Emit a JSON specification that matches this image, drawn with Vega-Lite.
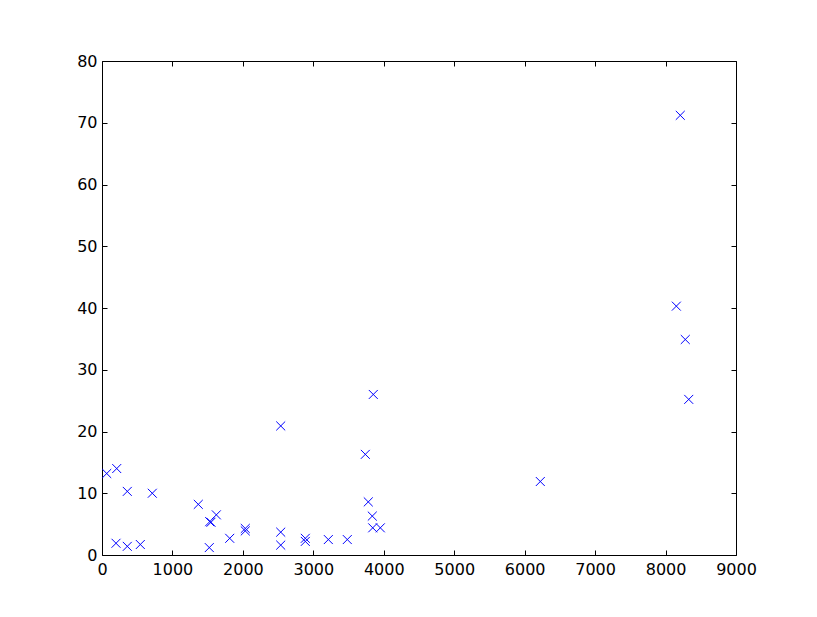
{
  "$schema": "https://vega.github.io/schema/vega-lite/v6.json",
  "width": 634,
  "height": 494,
  "autosize": {"type": "none"},
  "padding": {"left": 102, "top": 61, "right": 81, "bottom": 62},
  "background": "white",
  "config": {
    "view": {"stroke": "black", "strokeWidth": 1},
    "axis": {
      "grid": false, "domain": false, "tickColor": "black", "tickSize": -5, "tickWidth": 1,
      "labelFont": "DejaVu Sans", "labelFontSize": 16, "labelColor": "black", "title": null
    }
  },
  "data": {"values": [
    {"x": 67, "y": 13.2}, {"x": 209, "y": 14.0}, {"x": 359, "y": 10.3}, {"x": 714, "y": 10.0},
    {"x": 1367, "y": 8.2}, {"x": 1529, "y": 5.4}, {"x": 1547, "y": 5.3}, {"x": 1623, "y": 6.5},
    {"x": 2034, "y": 4.3}, {"x": 2034, "y": 3.9}, {"x": 2537, "y": 20.9}, {"x": 2537, "y": 3.7},
    {"x": 2537, "y": 1.6}, {"x": 199, "y": 1.9}, {"x": 359, "y": 1.4}, {"x": 544, "y": 1.7},
    {"x": 1523, "y": 1.2}, {"x": 1813, "y": 2.7}, {"x": 3851, "y": 26.0}, {"x": 3738, "y": 16.3},
    {"x": 3780, "y": 8.6}, {"x": 3837, "y": 6.3}, {"x": 3843, "y": 4.4}, {"x": 3951, "y": 4.4},
    {"x": 2886, "y": 2.7}, {"x": 2886, "y": 2.2}, {"x": 3213, "y": 2.5}, {"x": 3482, "y": 2.5},
    {"x": 8209, "y": 71.2}, {"x": 8153, "y": 40.3}, {"x": 8280, "y": 34.9}, {"x": 8329, "y": 25.2},
    {"x": 6222, "y": 11.9}
  ]},
  "layer": [
    {
      "mark": {"type": "point", "shape": "M-1,-1L1,1M-1,1L1,-1", "filled": false, "stroke": "#0000ff", "strokeWidth": 1, "size": 80, "opacity": 1},
      "encoding": {
        "x": {"field": "x", "type": "quantitative", "scale": {"domain": [0, 9000], "nice": false, "zero": false},
              "axis": {"orient": "bottom", "format": "d", "values": [0,1000,2000,3000,4000,5000,6000,7000,8000,9000], "labelPadding": 11, "labelFlush": false}},
        "y": {"field": "y", "type": "quantitative", "scale": {"domain": [0, 80], "nice": false, "zero": false},
              "axis": {"orient": "left", "format": "d", "values": [0,10,20,30,40,50,60,70,80], "labelPadding": 10, "labelFlush": false}}
      }
    },
    {
      "mark": {"type": "point", "opacity": 0},
      "encoding": {
        "x": {"field": "x", "type": "quantitative", "axis": {"orient": "top", "values": [0,1000,2000,3000,4000,5000,6000,7000,8000,9000], "labels": false}},
        "y": {"field": "y", "type": "quantitative", "axis": {"orient": "right", "values": [0,10,20,30,40,50,60,70,80], "labels": false}}
      }
    }
  ],
  "resolve": {"axis": {"x": "independent", "y": "independent"}}
}
